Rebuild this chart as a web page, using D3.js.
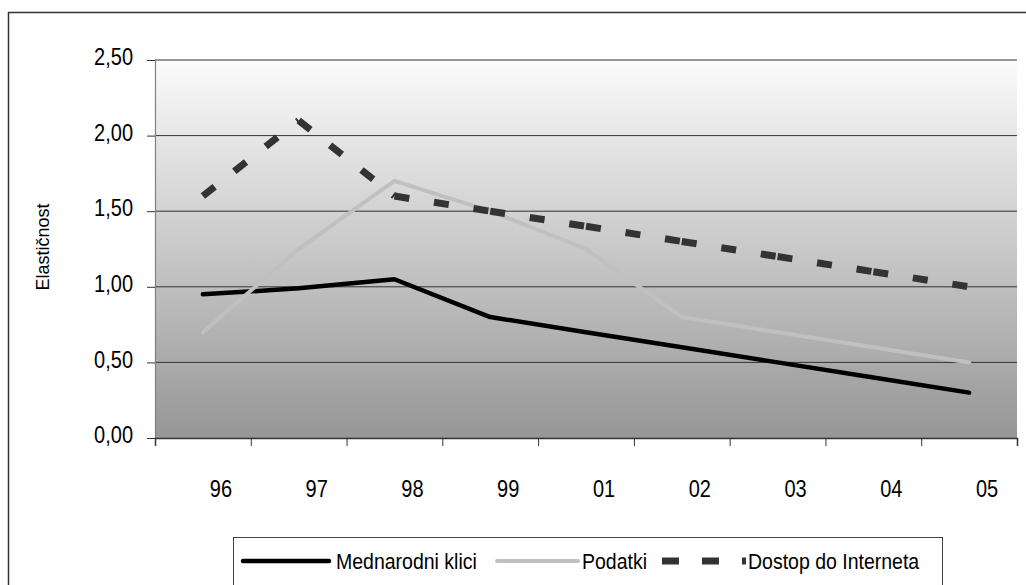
<!DOCTYPE html>
<html>
<head>
<meta charset="utf-8">
<script src="https://cdn.jsdelivr.net/npm/d3@7"></script>
<style>
  html, body { margin: 0; padding: 0; background: #fff; }
  svg { display: block; font-family: "Liberation Sans", Arial, sans-serif; }
</style>
</head>
<body>
<svg id="chart" width="1026" height="585"></svg>
<script>
const categories = ["96", "97", "98", "99", "01", "02", "03", "04", "05"];
const mednarodniKlici = [0.95, 0.99, 1.05, 0.80, 0.70, 0.60, 0.50, 0.40, 0.30];
const podatki = [0.70, 1.25, 1.70, 1.50, 1.25, 0.80, 0.70, 0.60, 0.50];
const dostopDoInterneta = [1.60, 2.10, 1.60, 1.50, 1.40, 1.30, 1.20, 1.10, 1.00];
const yTicks = [0, 0.5, 1.0, 1.5, 2.0, 2.5];
const seriesNames = ["Mednarodni klici", "Podatki", "Dostop do Interneta"];
const yTitle = "Elastičnost";

const svg = d3.select("#chart");
const L = 155, R = 1017, T = 60, B = 438;

const x = d3.scaleBand().domain(categories).range([L, R]).padding(0);
const xc = c => x(c) + x.bandwidth() / 2;
const xEdge = d3.scaleLinear().domain([0, categories.length]).range([L, R]);
const y = d3.scaleLinear().domain([0, 2.5]).range([B, T]);

// outer frame
svg.append("rect").attr("x", 8.5).attr("y", 12.5).attr("width", 1040).attr("height", 600)
  .attr("fill", "#fff").attr("stroke", "#333").attr("stroke-width", 1.5);

// gradient plot background
const defs = svg.append("defs");
const grad = defs.append("linearGradient").attr("id", "bg").attr("x1", 0).attr("y1", 0).attr("x2", 0).attr("y2", 1);
grad.append("stop").attr("offset", "0%").attr("stop-color", "#fbfbfb");
grad.append("stop").attr("offset", "100%").attr("stop-color", "#969696");
svg.append("rect").attr("x", L).attr("y", T).attr("width", R - L).attr("height", B - T).attr("fill", "url(#bg)");

// gridlines
svg.append("g").selectAll("line").data(yTicks.filter(d => d > 0)).join("line")
  .attr("x1", L).attr("x2", R).attr("y1", d => y(d)).attr("y2", d => y(d))
  .attr("stroke", "#333").attr("stroke-width", 1);

// y axis
const fmt = d => d3.format(".2f")(d).replace(".", ",");
const yAxis = svg.append("g").attr("transform", `translate(${L},0)`)
  .call(d3.axisLeft(y).tickValues(yTicks).tickSize(8).tickPadding(14).tickFormat(fmt));
yAxis.select(".domain").attr("stroke", "#808080").attr("stroke-width", 1.2);
yAxis.selectAll(".tick line").attr("stroke", "#333");
yAxis.selectAll(".tick text").attr("font-size", 20).attr("fill", "#000")
  .attr("dy", null).attr("y", 4).attr("font-family", "Liberation Sans, Arial, sans-serif")
  .attr("transform", "scale(1,1.16)");

// x axis: boundary ticks
const xTicks = svg.append("g").attr("transform", `translate(0,${B})`)
  .call(d3.axisBottom(xEdge).tickValues(d3.range(categories.length + 1)).tickSize(8).tickFormat(""));
xTicks.select(".domain").attr("stroke", "#333").attr("stroke-width", 1.5);
xTicks.selectAll(".tick line").attr("stroke", "#333");

// x labels
const xLab = svg.append("g").attr("transform", `translate(0,${B})`)
  .call(d3.axisBottom(x).tickSize(0).tickPadding(0));
xLab.select(".domain").remove();
xLab.selectAll(".tick text").attr("font-size", 20).attr("fill", "#000")
  .attr("dy", null).attr("x", 18).attr("y", 49).attr("font-family", "Liberation Sans, Arial, sans-serif")
  .attr("transform", "scale(1,1.2)");

// y title
svg.append("text").attr("transform", "translate(49,247) rotate(-90)")
  .attr("text-anchor", "middle").attr("font-size", 18).attr("fill", "#000").text(yTitle);

// series lines
const line = d3.line().x((d, i) => xc(categories[i])).y(d => y(d));
svg.append("path").datum(mednarodniKlici).attr("d", line)
  .attr("fill", "none").attr("stroke", "#000").attr("stroke-width", 4.5)
  .attr("stroke-linejoin", "round").attr("stroke-linecap", "round");
svg.append("path").datum(podatki).attr("d", line)
  .attr("fill", "none").attr("stroke", "#c0c0c0").attr("stroke-width", 4)
  .attr("stroke-linejoin", "round").attr("stroke-linecap", "round");

// dashed series: each segment restarts its dash pattern
const segs = d3.pairs(dostopDoInterneta.map((v, i) => [xc(categories[i]), y(v)]));
svg.append("g").selectAll("line").data(segs).join("line")
  .attr("x1", d => d[0][0]).attr("y1", d => d[0][1])
  .attr("x2", d => d[1][0]).attr("y2", d => d[1][1])
  .attr("stroke", "#333").attr("stroke-width", 7).attr("stroke-dasharray", "15,25")
  .attr("stroke-linecap", "butt");

// legend
const lg = svg.append("g");
lg.append("rect").attr("x", 233.5).attr("y", 537.5).attr("width", 709).attr("height", 60)
  .attr("fill", "#fff").attr("stroke", "#444").attr("stroke-width", 1);
const ly = 561;
const legendItems = [
  { name: seriesNames[0], x1: 243, x2: 329, tx: 336, stroke: "#000", w: 4.5, dash: null, cap: "round" },
  { name: seriesNames[1], x1: 497, x2: 578, tx: 582, stroke: "#c0c0c0", w: 4, dash: null, cap: "round" },
  { name: seriesNames[2], x1: 662, x2: 746, tx: 748, stroke: "#333", w: 7, dash: "17,23", cap: "butt" }
];
legendItems.forEach(it => {
  lg.append("line").attr("x1", it.x1).attr("x2", it.x2).attr("y1", ly).attr("y2", ly)
    .attr("stroke", it.stroke).attr("stroke-width", it.w).attr("stroke-linecap", it.cap)
    .attr("stroke-dasharray", it.dash);
  lg.append("text").attr("transform", `translate(${it.tx},${ly + 8}) scale(1,1.16)`)
    .attr("font-size", 19.5).attr("fill", "#000").text(it.name);
});
</script>
</body>
</html>
